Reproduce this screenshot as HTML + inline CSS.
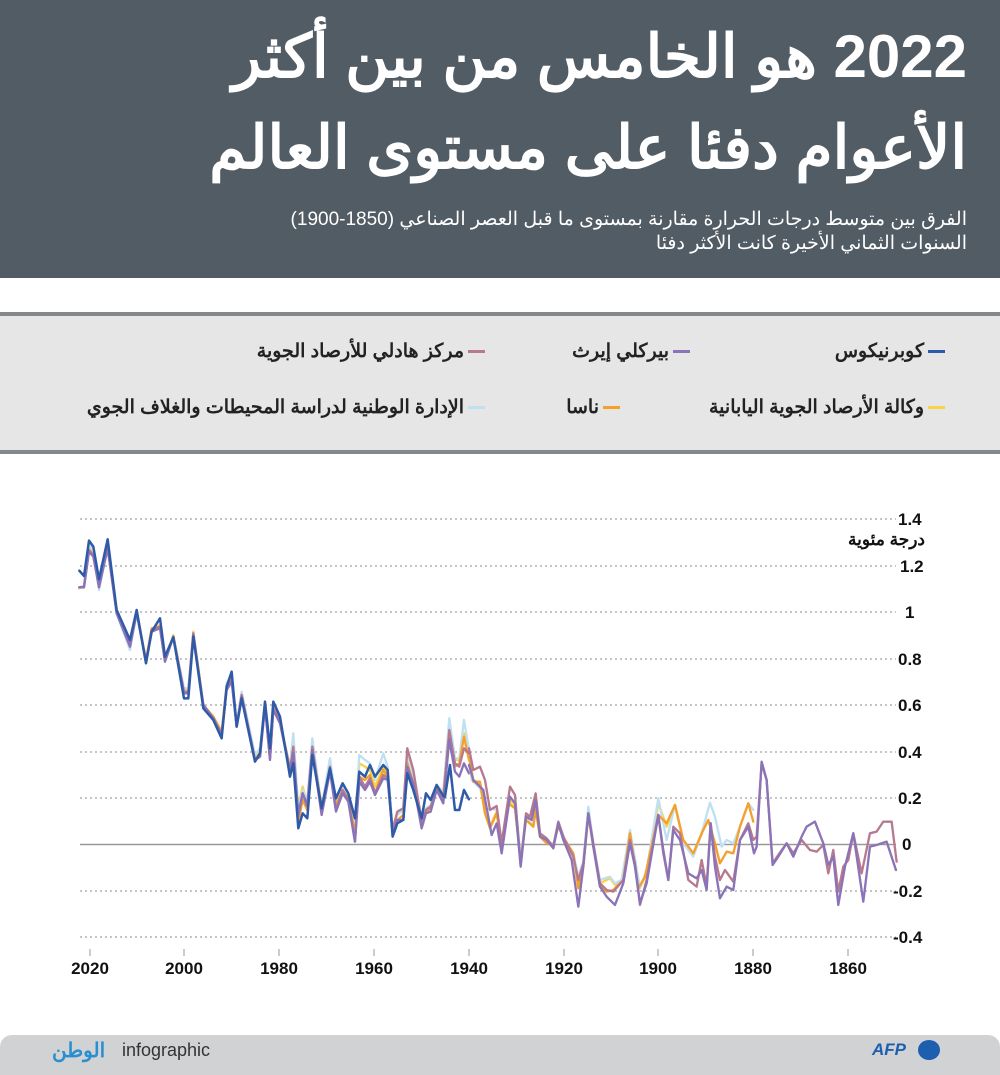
<!DOCTYPE html>
<html><head><meta charset="utf-8"><style>
body{margin:0;width:1000px;height:1067px;background:#fff;overflow:hidden;font-family:"Liberation Sans","Noto Sans CJK SC",sans-serif;position:relative}
.hdr{position:absolute;left:0;top:0;width:1000px;height:278px;background:#515c64}
.t{position:absolute;right:33px;color:#fff;direction:rtl;white-space:nowrap;font-weight:bold}
.leg{position:absolute;left:0;top:312px;width:1000px;height:134px;background:#e6e6e7;border-top:4px solid #85888b;border-bottom:4px solid #85888b}
.li{position:absolute;direction:rtl;font-size:19px;font-weight:bold;color:#222;white-space:nowrap}
.li span{display:inline-block;width:17px;height:3px;margin-left:4px;vertical-align:middle}
.ft{position:absolute;left:0;top:1035px;width:1000px;height:40px;background:#d1d2d4;border-radius:12px 12px 0 0}
</style></head><body>
<div class="hdr"></div>
<div class="t" style="top:22px;font-size:60px;line-height:70px">2022 هو الخامس من بين أكثر</div>
<div class="t" style="top:108px;font-size:60px;line-height:80px">الأعوام دفئا على مستوى العالم</div>
<div class="t" style="top:208px;font-size:19px;line-height:24px;font-weight:normal">الفرق بين متوسط درجات الحرارة مقارنة بمستوى ما قبل العصر الصناعي (1850-1900)<br>السنوات الثماني الأخيرة كانت الأكثر دفئا</div>
<div class="leg"></div>
<div class="li" style="right:55px;top:340px"><span style="background:#2f5aa8"></span>كوبرنيكوس</div>
<div class="li" style="right:310px;top:340px"><span style="background:#8a73b7"></span>بيركلي إيرث</div>
<div class="li" style="right:515px;top:340px"><span style="background:#b7798e"></span>مركز هادلي للأرصاد الجوية</div>
<div class="li" style="right:55px;top:396px"><span style="background:#f7d34a"></span>وكالة الأرصاد الجوية اليابانية</div>
<div class="li" style="right:380px;top:396px"><span style="background:#f5a02a"></span>ناسا</div>
<div class="li" style="right:515px;top:396px"><span style="background:#bfe0f2"></span>الإدارة الوطنية لدراسة المحيطات والغلاف الجوي</div>
<div style="position:absolute;right:75px;top:530px;font-size:17px;font-weight:bold;color:#111;direction:rtl;white-space:nowrap">درجة مئوية</div>

<svg width="1000" height="1067" style="position:absolute;left:0;top:0">
<g stroke="#888" stroke-dasharray="2,3" stroke-width="1">
<line x1="80" x2="896" y1="519" y2="519"/><line x1="80" x2="896" y1="566" y2="566"/><line x1="80" x2="896" y1="612" y2="612"/><line x1="80" x2="896" y1="659" y2="659"/><line x1="80" x2="896" y1="705" y2="705"/><line x1="80" x2="896" y1="752" y2="752"/><line x1="80" x2="896" y1="798" y2="798"/><line x1="80" x2="896" y1="891" y2="891"/><line x1="80" x2="896" y1="937" y2="937"/>
</g>
<line x1="80" x2="896" y1="844.5" y2="844.5" stroke="#999" stroke-width="1.5"/>
<g stroke="#999" stroke-width="1"><line x1="90" x2="90" y1="949" y2="956"/><line x1="184" x2="184" y1="949" y2="956"/><line x1="279" x2="279" y1="949" y2="956"/><line x1="374" x2="374" y1="949" y2="956"/><line x1="469" x2="469" y1="949" y2="956"/><line x1="564" x2="564" y1="949" y2="956"/><line x1="658" x2="658" y1="949" y2="956"/><line x1="753" x2="753" y1="949" y2="956"/><line x1="848" x2="848" y1="949" y2="956"/></g>
<g font-size="17" font-weight="bold" fill="#111" text-anchor="middle">
<text x="90" y="974">2020</text><text x="184" y="974">2000</text><text x="279" y="974">1980</text><text x="374" y="974">1960</text><text x="469" y="974">1940</text><text x="564" y="974">1920</text><text x="658" y="974">1900</text><text x="753" y="974">1880</text><text x="848" y="974">1860</text></g>
<g font-size="17" font-weight="bold" fill="#111">
<text x="898" y="525">1.4</text><text x="900" y="572">1.2</text><text x="905" y="618">1</text><text x="898" y="665">0.8</text><text x="898" y="711">0.6</text><text x="898" y="758">0.4</text><text x="898" y="804">0.2</text><text x="902" y="850">0</text><text x="893" y="897">-0.2</text><text x="893" y="943">-0.4</text></g>

<g fill="none" stroke-linejoin="round" stroke-linecap="round">
<g transform="translate(60,500) scale(0.3333)" stroke-width="7">
<path d="M58,265 L72,260 87,140 100,160 117,265 143,135 170,335 210,440 230,330 258,490 275,390 300,375 315,480 340,405 372,570 385,570 400,395 430,615 460,650 485,700 500,555 515,530 530,670 545,580 585,770 600,750 615,610 630,770 640,620 660,660 690,810 700,730 715,920 728,860 742,910 757,730 785,930 810,790 828,915 848,860 865,890 885,990 898,790 915,800 930,810 945,860 970,800 983,825 998,990 1012,940 1030,930 1042,760 1060,820 1085,960 1098,930 1112,920 1130,860 1150,880 1168,680 1185,780 1198,780 1212,700 1227,760" stroke="#f7d34a"/>
<path d="M58,262 L72,258 87,135 100,150 117,270 143,140 170,340 210,450 230,335 258,480 275,395 300,380 315,470 340,410 372,565 385,565 400,400 430,620 460,655 485,705 500,550 515,525 530,670 545,575 585,765 600,745 615,615 630,760 640,620 660,665 690,800 700,700 715,930 728,870 742,900 757,715 785,920 810,775 828,905 848,860 865,885 885,985 898,765 915,780 930,790 945,840 970,760 983,800 998,985 1012,945 1030,930 1042,775 1060,830 1085,950 1098,925 1112,915 1130,855 1150,875 1168,655 1185,775 1198,775 1212,660 1227,750" stroke="#bfe0f2"/>
<path d="M58,262 L72,262 87,150 100,170 117,255 143,145 170,335 210,430 230,335 258,480 275,385 300,380 315,470 340,410 372,580 385,580 400,400 430,615 460,650 485,695 500,560 515,535 530,680 545,585 585,780 600,760 615,615 630,775 640,625 660,665 690,805 700,760 715,965 728,900 742,930 757,750 785,920 810,810 828,915 848,870 865,895 885,1000 898,830 915,840 930,825 945,880 970,810 983,830 998,1000 1012,960 1030,945 1042,790 1060,850 1085,965 1098,935 1112,925 1130,865 1150,885 1168,700 1185,800 1198,790 1212,710 1227,780" stroke="#f5a02a"/>
<path d="M58,262 L72,260 87,150 100,165 117,260 143,140 170,340 210,435 230,335 258,485 275,390 300,380 315,485 340,410 372,575 385,575 400,400 430,615 460,655 485,705 500,565 515,540 530,680 545,585 585,780 600,770 615,615 630,775 640,625 660,665 690,810 700,740 715,950 728,880 742,915 757,740 785,930 810,800 828,930 848,870 865,900 885,1025 898,830 915,860 930,835 945,880 970,825 983,835 998,990 1012,935 1030,925 1042,745 1060,810 1085,965 1098,930 1112,920 1130,870 1150,900 1168,690 1185,790 1198,800 1212,745 1227,760" stroke="#b7798e"/>
<path d="M58,262 L72,262 87,155 100,170 117,262 143,145 170,340 210,440 230,340 258,485 275,395 300,385 315,485 340,410 372,580 385,580 400,405 430,615 460,655 485,705 500,570 515,545 530,680 545,590 585,780 600,770 615,620 630,780 640,630 660,670 690,815 700,760 715,940 728,880 742,920 757,750 785,945 810,815 828,935 848,880 865,905 885,1025 898,845 915,870 930,845 945,885 970,835 983,840 998,1000 1012,960 1030,960 1042,800 1060,850 1085,985 1098,940 1112,935 1130,870 1150,910 1168,720 1185,815 1198,830 1212,790 1227,820" stroke="#8a73b7"/>
</g>
<g transform="translate(440,680) scale(0.3333)" stroke-width="7">
<path d="M87,230 L100,300 120,310 135,400 150,440 170,395 185,490 205,360 225,375 242,540 258,415 280,440 287,380 300,470 320,485 340,495 355,430 375,480 400,520 415,610 430,550 445,390 460,495 480,610 510,595 525,615 545,600 570,455 600,625 620,580 655,370 680,440 705,375 730,485 760,525 786,460" stroke="#f7d34a"/>
<path d="M87,230 L95,300 120,325 140,390 150,385 170,390 185,490 210,355 225,365 242,530 258,420 280,435 287,365 300,465 320,480 340,495 355,425 375,480 400,520 415,590 430,545 445,380 460,490 480,600 510,590 525,610 545,600 570,450 600,625 620,570 655,355 680,480 705,375 730,490 760,530 785,460 810,368 825,410 845,500 860,480 880,490 900,440 925,370 940,390" stroke="#bfe0f2"/>
<path d="M87,230 L100,305 120,305 135,400 150,445 170,400 185,495 205,370 225,385 242,545 258,420 280,440 287,390 300,470 320,490 340,495 355,440 375,480 400,520 415,625 430,560 445,405 460,500 480,620 500,635 520,630 550,600 570,460 595,625 615,590 655,405 680,430 705,375 730,480 760,520 785,460 805,420 825,490 840,550 860,515 880,520 900,440 925,370 940,425" stroke="#f5a02a"/>
<path d="M87,205 L100,270 120,260 135,300 150,390 170,378 185,490 210,320 225,345 242,555 258,400 270,410 287,340 300,460 320,475 340,500 355,425 370,470 400,530 415,600 430,550 445,400 460,490 480,610 500,630 520,635 550,600 570,480 585,550 600,675 620,600 655,405 670,520 685,600 700,440 720,460 745,600 770,620 785,540 800,620 812,430 825,530 840,600 855,570 880,605 900,480 925,430 940,480 950,470 965,250 980,300 998,550 1015,525 1040,490 1060,520 1085,480 1110,510 1130,515 1150,495 1165,580 1180,510 1195,635 1210,560 1225,540 1240,460 1265,580 1290,460 1310,455 1330,425 1355,425 1370,545" stroke="#b7798e"/>
<path d="M87,255 L100,300 130,330 155,465 170,430 185,520 210,350 225,370 242,560 258,410 275,420 287,360 300,470 320,480 340,505 355,430 370,480 395,540 415,680 430,560 445,400 460,500 480,620 500,650 525,675 550,610 570,490 585,560 600,670 620,610 655,405 670,510 685,600 700,450 720,480 745,580 770,595 785,570 800,630 812,430 825,560 840,655 860,620 880,630 900,480 925,440 942,520 950,500 965,245 980,300 998,555 1015,530 1040,490 1060,530 1085,470 1100,440 1125,425 1150,490 1165,555 1180,530 1195,675 1215,560 1240,460 1270,665 1290,500 1310,495 1340,485 1368,570" stroke="#8a73b7"/>
</g>
<g transform="translate(60,500) scale(0.3333)" stroke-width="7.5">
<path d="M58,212 L72,228 87,122 100,140 117,238 143,118 170,330 210,420 230,330 258,490 275,395 300,355 315,470 340,412 372,595 385,595 400,410 430,625 460,660 485,715 500,560 515,515 530,680 545,595 585,785 600,760 615,605 630,745 640,605 660,650 690,830 700,790 715,985 728,940 742,955 757,765 785,925 810,805 828,895 848,850 865,880 885,955 898,815 915,830 930,795 945,830 970,795 983,810 998,1010 1012,970 1030,960 1042,820 1060,870 1085,955 1098,880 1112,900 1130,855 1150,888 1155,890 1170,795 1185,930 1198,930 1212,870 1227,898" stroke="#2f5aa8"/>
</g>
</g>
</svg>
<div class="ft"></div>
<div style="position:absolute;left:52px;top:1038px;font-size:20px;font-weight:bold;color:#2a8fd0;direction:rtl">الوطن</div>
<div style="position:absolute;left:122px;top:1040px;font-size:18px;color:#333">infographic</div>
<div style="position:absolute;left:872px;top:1040px;font-size:17px;font-weight:bold;font-style:italic;color:#1d5fae">AFP</div>
<div style="position:absolute;left:918px;top:1040px;width:22px;height:20px;border-radius:50%;background:#1d5fae"></div>
</body></html>
